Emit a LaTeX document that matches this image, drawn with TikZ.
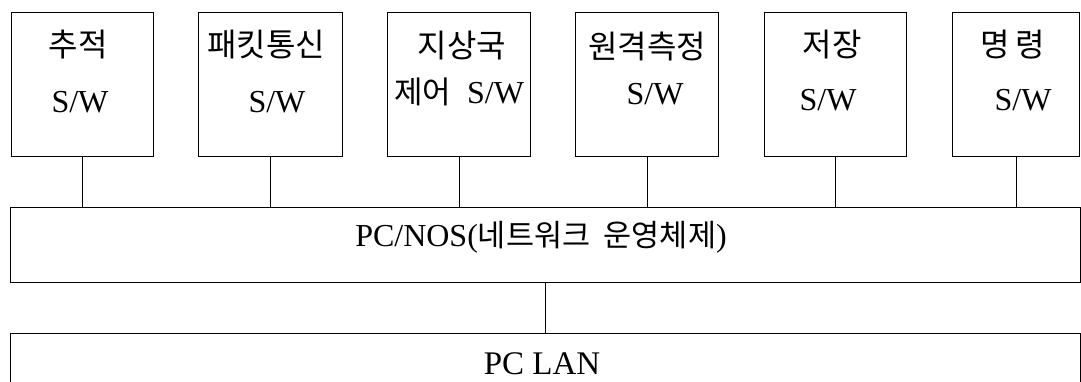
\documentclass[tikz,border=0pt]{standalone}
\usepackage{fontspec}
\setmainfont{Liberation Serif}
\newfontfamily\kr{Noto Sans CJK KR}
\begin{document}
\begin{tikzpicture}[x=1pt,y=-1pt,
  box/.style={draw,line width=1.2pt,inner sep=0pt,anchor=north west},
  wire/.style={draw,line width=0.9pt},
  lat/.style={font=\fontsize{32}{32}\selectfont,inner sep=0pt},
  han/.style={font=\kr\fontsize{32}{32}\selectfont,inner sep=0pt}]
\useasboundingbox (0,0) rectangle (1081,381);
\clip (0,0) rectangle (1081,381);
% top boxes
\node[box,minimum width=142pt,minimum height=144pt] (b1) at (11,12) {};
\node[box,minimum width=144pt,minimum height=144pt] (b2) at (198,12) {};
\node[box,minimum width=143pt,minimum height=144pt] (b3) at (387,12) {};
\node[box,minimum width=143pt,minimum height=144pt] (b4) at (575,12) {};
\node[box,minimum width=142pt,minimum height=144pt] (b5) at (764,12) {};
\node[box,minimum width=127pt,minimum height=144pt] (b6) at (952,12) {};
% texts
\node[han] (t1a) at (78,45) {추적};
\node[lat] (t1b) at (80,102) {S/W};
\node[han] (t2a) at (266,45) {패킷통신};
\node[lat] (t2b) at (277,102) {S/W};
\node[han] (t3a) at (462,46) {지상국};
\node[lat] (t3b) at (459,92) {{\kr\fontsize{31}{31}\selectfont 제어}\ \ S/W};
\node[han] (t4a) at (647,46) {원격측정};
\node[lat] (t4b) at (655,94) {S/W};
\node[han] (t5a) at (832,45) {저장};
\node[lat] (t5b) at (828,100) {S/W};
\node[han] (t6a) at (1013,45) {명\,령};
\node[lat] (t6b) at (1023,100) {S/W};
% bars
\node[box,minimum width=1070pt,minimum height=75pt] (nos) at (10,207) {};
\node[lat] (nost) at (541,237) {PC/NOS({\kr\fontsize{30.5}{30.5}\selectfont 네트워크\ \ 운영체제})};
\node[box,minimum width=1070pt,minimum height=70pt] (lan) at (10,333) {};
\node[lat,font=\fontsize{33}{33}\selectfont] (lant) at (542,364) {PC LAN};
% connectors
\foreach \i in {1,...,6}{
  \draw[wire] (b\i.south) -- (b\i.south |- nos.north);
}
\draw[wire] (nos.south) -- (lan.north);
\end{tikzpicture}
\end{document}
